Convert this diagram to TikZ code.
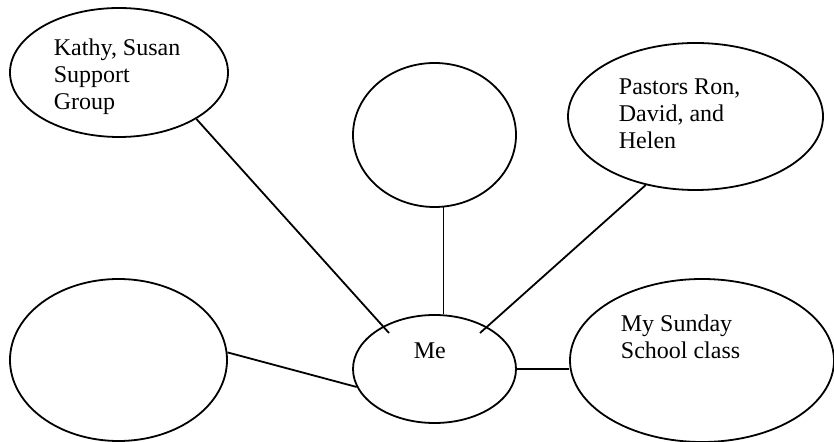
\documentclass[tikz,border=0pt]{standalone}
\usepackage{fontspec}
\setmainfont{Liberation Serif}
\usetikzlibrary{shapes.geometric}

\begin{document}
\begin{tikzpicture}[x=0.5pt, y=-0.5pt, line width=0.9pt,
  bubble/.style={draw, ellipse, inner sep=0pt},
  words/.style={anchor=base west, align=left, inner sep=0pt,
    font=\fontsize{12}{13.6}\selectfont}]
  \useasboundingbox (0, 0) rectangle (834, 442);

  \node[bubble, minimum width=109pt, minimum height=64.5pt] (kathy) at (119, 72.5) {};
  \node[bubble, minimum width=81.5pt, minimum height=72pt] (blankTop) at (434.5, 135) {};
  \node[bubble, minimum width=127.5pt, minimum height=73.5pt] (pastors) at (695.5, 116.5) {};
  \node[bubble, minimum width=108.5pt, minimum height=81pt] (blankLeft) at (118.5, 360) {};
  \node[bubble, minimum width=81.5pt, minimum height=54pt] (me) at (434.5, 369) {};
  \node[bubble, minimum width=132pt, minimum height=81.5pt] (sunday) at (702, 360.5) {};

  % base of a multi-line text is its last line
  \node[words] (kathyText) at (53, 110) {Kathy, Susan\\Support\\Group};
  \node[words] (pastorsText) at (618, 149) {Pastors Ron,\\David, and\\Helen};
  \node[words] (meText) at (413, 359) {Me};
  \node[words] (sundayText) at (620, 359) {My Sunday\\School class};

  \coordinate (kathyEnd) at (389, 333);
  \coordinate (pastorsEnd) at (480, 333);

  \draw (kathy.-31.4) -- (kathyEnd);
  \draw (blankTop.-83.3) -- (blankTop.-83.3 |- me.north);
  \draw (pastors.-126.4) -- (pastorsEnd);
  \draw (blankLeft.4.2) -- (me.193);
  \draw (me.east) -- (me.east -| sunday.west);
\end{tikzpicture}
\end{document}
